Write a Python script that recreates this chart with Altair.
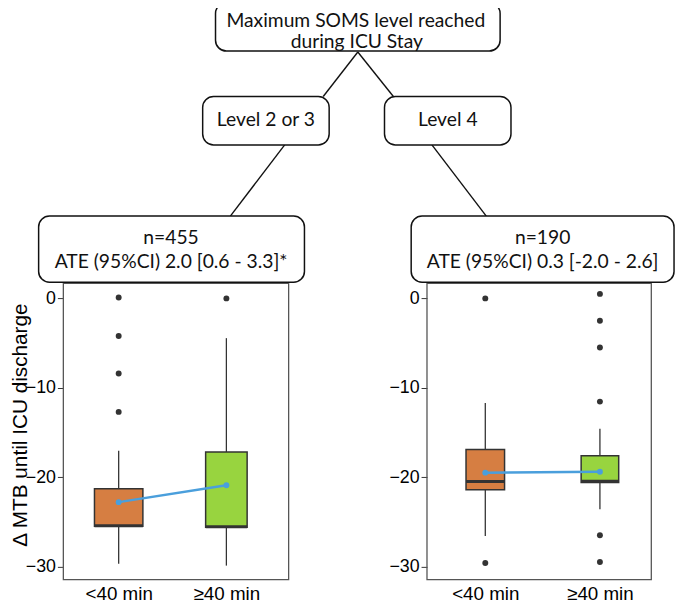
import altair as alt
import pandas as pd

# ---------------- data ----------------
panels = ["Level 2 or 3", "Level 2 or 3", "Level 4", "Level 4"]
groups = ["<40 min", "≥40 min", "<40 min", "≥40 min"]
lower_whisker = [-29.7, -29.9, -26.6, -23.6]
q1 = [-25.5, -25.6, -21.4, -20.6]
median = [-25.45, -25.55, -20.5, -20.45]
q3 = [-21.3, -17.2, -16.9, -17.6]
upper_whisker = [-17.05, -4.45, -11.7, -14.6]
means = [-22.8, -20.9, -19.5, -19.4]

outlier_panel = ["Level 2 or 3"] * 5 + ["Level 4"] * 8
outlier_group = ["<40 min"] * 4 + ["≥40 min"] + ["<40 min"] * 2 + ["≥40 min"] * 6
outlier_value = [0.1, -4.2, -8.4, -12.7, 0.0,
                 0.0, -29.6,
                 0.5, -2.5, -5.5, -11.55, -26.5, -29.5]

node_text = {
    "root": ["Maximum SOMS level reached", "during ICU Stay"],
    "left": ["Level 2 or 3"],
    "right": ["Level 4"],
    "left_stats": ["n=455", "ATE (95%CI) 2.0 [0.6 - 3.3]*"],
    "right_stats": ["n=190", "ATE (95%CI) 0.3 [-2.0 - 2.6]"],
}
y_title = "Δ MTB until ICU discharge"
group_order = ["<40 min", "≥40 min"]

df_box = pd.DataFrame({
    "panel": panels, "group": groups, "lower": lower_whisker, "q1": q1,
    "median": median, "q3": q3, "upper": upper_whisker, "mean": means,
})
df_out = pd.DataFrame({"panel": outlier_panel, "group": outlier_group,
                       "value": outlier_value})

# ---------------- styling ----------------
ORANGE = "#D67E42"
GREEN = "#98D43F"
BLUE = "#4A9FDC"
DARK = "#333333"
AXIS_FONT = "Liberation Sans"
NODE_FONT = "Lato"
NODE_SIZE = 19.5

Y_DOMAIN = [-31.48, 1.69]
Y_RANGE = [575, 275]


def make_panel(name, x_range, sizes, offset, title):
    box = df_box[df_box.panel == name]
    out = df_out[df_out.panel == name]
    x = alt.X("group:N",
              scale=alt.Scale(type="point", domain=group_order, range=x_range,
                              padding=0),
              axis=alt.Axis(orient="bottom", title=None, ticks=False,
                            domain=False, grid=False, labelPadding=5,
                            labelFont=AXIS_FONT, labelFontSize=19,
                            labelColor="#000000", labelAngle=0))
    yscale = alt.Scale(domain=Y_DOMAIN, range=Y_RANGE, nice=False, zero=False)
    axis_kw = dict(orient="left", offset=offset, values=[0, -10, -20, -30],
                   domain=False, grid=False, tickSize=6, tickColor=DARK,
                   tickWidth=1, labelPadding=2, labelFont=AXIS_FONT,
                   labelFontSize=18, labelColor="#000000")
    if title:
        axis_kw.update(title=title, titleFont=AXIS_FONT, titleFontSize=21,
                       titleFontWeight="normal", titleColor="#000000",
                       titleX=-33, titleY=418, titleAngle=270,
                       titleAlign="center", titleBaseline="bottom")
    else:
        axis_kw.update(title=None)
    yaxis = alt.Axis(**axis_kw)
    size = alt.Size("group:N", scale=alt.Scale(domain=group_order, range=sizes),
                    legend=None)
    color = alt.Color("group:N",
                      scale=alt.Scale(domain=group_order, range=[ORANGE, GREEN]),
                      legend=None)
    base = alt.Chart(box)

    w_low = base.mark_rule(color=DARK, strokeWidth=1.3).encode(
        x=x, y=alt.Y("lower:Q", scale=yscale, axis=yaxis), y2="q1:Q")
    w_up = base.mark_rule(color=DARK, strokeWidth=1.3).encode(
        x=x, y=alt.Y("q3:Q", scale=yscale, axis=yaxis), y2="upper:Q")
    bars = base.mark_bar(stroke=DARK, strokeWidth=1.5, opacity=1).encode(
        x=x, y=alt.Y("q1:Q", scale=yscale, axis=yaxis), y2="q3:Q",
        size=size, color=color)
    med = base.mark_tick(color=DARK, thickness=3, opacity=1).encode(
        x=x, y=alt.Y("median:Q", scale=yscale, axis=yaxis), size=size)
    pts = alt.Chart(out).mark_circle(color=DARK, size=36, opacity=1).encode(
        x=x, y=alt.Y("value:Q", scale=yscale, axis=yaxis))
    mline = base.mark_line(color=BLUE, strokeWidth=2.5).encode(
        x=x, y=alt.Y("mean:Q", scale=yscale, axis=yaxis))
    mpts = base.mark_circle(color=BLUE, size=36, opacity=1).encode(
        x=x, y=alt.Y("mean:Q", scale=yscale, axis=yaxis))
    return alt.layer(w_low, w_up, bars, med, pts, mline, mpts)


def frame(x1, x2):
    return alt.Chart(pd.DataFrame({"d": [0]})).mark_rect(
        fill=None, stroke="#555555", strokeWidth=1.3
    ).encode(x=alt.value(x1), x2=alt.value(x2),
             y=alt.value(Y_RANGE[1]), y2=alt.value(Y_RANGE[0]))


def node(x1, x2, y1, y2):
    return alt.Chart(pd.DataFrame({"d": [0]})).mark_rect(
        fill="white", stroke="#111111", strokeWidth=1.5, cornerRadius=11
    ).encode(x=alt.value(x1), x2=alt.value(x2), y=alt.value(y1), y2=alt.value(y2))


def label(text, x, y):
    return alt.Chart(pd.DataFrame({"d": [0]})).mark_text(
        text=text, font=NODE_FONT, fontSize=NODE_SIZE, align="center",
        baseline="alphabetic", color="#111111"
    ).encode(x=alt.value(x), y=alt.value(y))


def link(x1, y1, x2, y2):
    return alt.Chart(pd.DataFrame({"d": [0]})).mark_rule(
        color="#111111", strokeWidth=1.4
    ).encode(x=alt.value(x1), y=alt.value(y1), x2=alt.value(x2), y2=alt.value(y2))


left_panel = make_panel("Level 2 or 3", [56, 165], [49, 42], 0, y_title)
right_panel = make_panel("Level 4", [427, 543], [39, 38], -368, None)

decor = [
    frame(0, 228), frame(368, 595),
    link(298, 41, 263, 86), link(298, 41, 334, 86),
    link(224, 135, 169, 207), link(373, 135, 428, 207),
    node(154, 442, -9, 40),
    label(node_text["root"][0], 296, 16), label(node_text["root"][1], 297, 37),
    node(141, 269, 86, 135), label(node_text["left"][0], 205, 116),
    node(325, 453, 86, 135), label(node_text["right"][0], 389, 116),
    node(-25, 244, 207, 274),
    label(node_text["left_stats"][0], 109, 235),
    label(node_text["left_stats"][1], 109, 260),
    node(352, 618, 207, 274),
    label(node_text["right_stats"][0], 485, 235),
    label(node_text["right_stats"][1], 485, 260),
]

chart = alt.layer(left_panel, right_panel, *decor).resolve_scale(
    x="independent", y="independent", size="independent", color="independent"
).properties(
    width=621, height=575,
    padding={"left": 56, "top": 0, "right": 0, "bottom": 21},
    autosize=alt.AutoSizeParams(type="none"),
).configure_view(stroke=None)

chart.save("out.html", embed_options={"renderer": "svg", "actions": False})
